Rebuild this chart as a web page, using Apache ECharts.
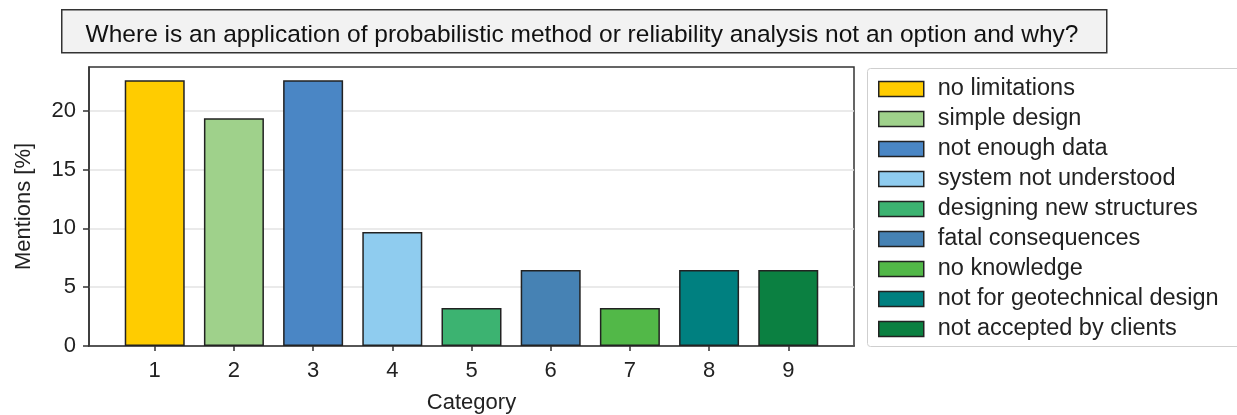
<!DOCTYPE html>
<html>
<head>
<meta charset="utf-8">
<script src="https://cdn.jsdelivr.net/npm/echarts@6/dist/echarts.min.js"></script>
<style>
html,body{margin:0;padding:0;background:#fff;}
#chart{width:1237px;height:415px;}
</style>
</head>
<body>
<div id="chart"></div>
<script>
const titleText = 'Where is an application of probabilistic method or reliability analysis not an option and why?';
const categories = [1, 2, 3, 4, 5, 6, 7, 8, 9];
const labels = ['no limitations', 'simple design', 'not enough data', 'system not understood',
  'designing new structures', 'fatal consequences', 'no knowledge',
  'not for geotechnical design', 'not accepted by clients'];
const values = [22.58, 19.35, 22.58, 9.68, 3.23, 6.45, 3.23, 6.45, 6.45];
const colors = ['#FFCC00', '#9FD18B', '#4A86C5', '#8FCCEF', '#3CB371', '#4682B4', '#52B848', '#008080', '#0B8041'];
const yTicks = [0, 5, 10, 15, 20];

const FONT = '"Liberation Sans", Arial, sans-serif';

const series = categories.map((c, i) => ({
  name: labels[i],
  type: 'bar',
  data: [[c, values[i]]],
  barWidth: 60,
  barGap: '-100%',
  itemStyle: { color: colors[i], borderColor: '#222', borderWidth: 1.5 },
  emphasis: { disabled: true },
  animation: false
}));

const chart = echarts.init(document.getElementById('chart'), null, { renderer: 'canvas' });
chart.setOption({
  animation: false,
  backgroundColor: '#fff',
  textStyle: { fontFamily: FONT },
  graphic: [
    { type: 'rect', left: 61, top: 9, z: -1,
      shape: { width: 1045, height: 43 },
      style: { fill: '#f2f2f2', stroke: '#333', lineWidth: 1.5 } },
    { type: 'rect', left: 867, top: 68, z: -1,
      shape: { width: 385, height: 278, r: 3 },
      style: { fill: '#fff', stroke: '#cfcfcf', lineWidth: 1 } }
  ],
  title: {
    text: titleText,
    left: 577, top: 18, textAlign: 'center',
    textStyle: { fontFamily: FONT, fontSize: 24.5, fontWeight: 'normal', color: '#111' }
  },
  legend: {
    orient: 'vertical',
    left: 878, top: 77, padding: 0,
    itemWidth: 45, itemHeight: 15, itemGap: 6,
    icon: 'rect',
    itemStyle: { borderColor: '#222', borderWidth: 1.5 },
    textStyle: { fontFamily: FONT, fontSize: 23.5, color: '#222', padding: [0, 0, 0, 9] },
    data: labels
  },
  grid: {
    left: 89, right: 383, top: 67, bottom: 69,
    outerBoundsMode: 'none',
    show: true, borderColor: '#333', borderWidth: 1.5, backgroundColor: 'transparent'
  },
  xAxis: {
    type: 'value',
    min: 0.17, max: 9.83,
    name: 'Category', nameLocation: 'middle', nameGap: 46,
    nameTextStyle: { fontFamily: FONT, fontSize: 22, color: '#222' },
    axisLine: { show: true, lineStyle: { color: '#333', width: 1.5 } },
    axisTick: { show: true, customValues: categories, length: 5, lineStyle: { color: '#333', width: 1.5 } },
    axisLabel: { customValues: categories, margin: 14, fontFamily: FONT, fontSize: 22, color: '#222' },
    splitLine: { show: false }
  },
  yAxis: {
    type: 'value',
    min: 0, max: 23.71,
    name: 'Mentions [%]', nameLocation: 'middle', nameGap: 54,
    nameTextStyle: { fontFamily: FONT, fontSize: 22, color: '#222' },
    axisLine: { show: true, lineStyle: { color: '#333', width: 1.5 } },
    axisTick: { show: true, customValues: yTicks, length: 6, lineStyle: { color: '#333', width: 1.5 } },
    axisLabel: { customValues: yTicks, margin: 13, fontFamily: FONT, fontSize: 22, color: '#222' },
    splitLine: { show: true, customValues: yTicks, lineStyle: { color: '#e3e3e3', width: 1.5 } }
  },
  series: series
});
</script>
</body>
</html>
